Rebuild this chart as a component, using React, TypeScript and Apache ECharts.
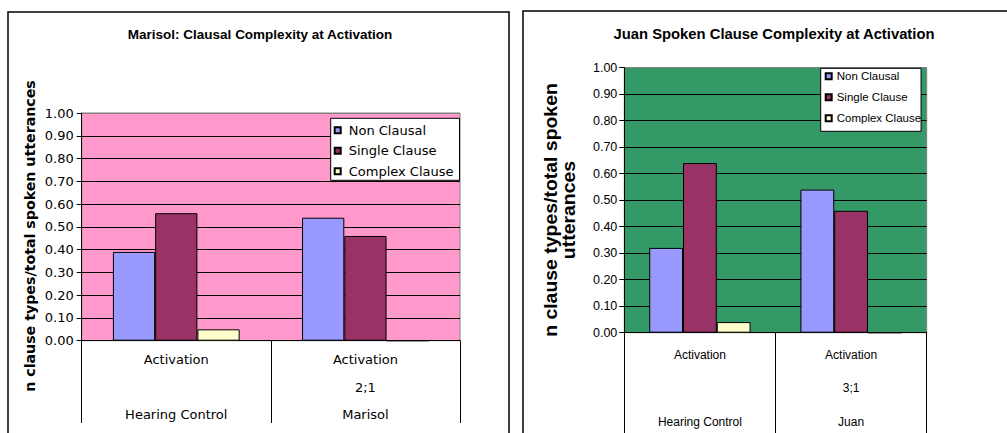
import React, { useEffect, useRef } from "react";
import * as echarts from "echarts";

// Clause-type shares per session, two panels side by side
const seriesNames = ["Non Clausal", "Single Clause", "Complex Clause"];
const seriesColors = ["#9999FF", "#993366", "#FFFFCC"];

const marisolGroups = ["Hearing Control", "Marisol"];
const marisolSessions = ["Activation", "Activation"];
const marisolAges = ["", "2;1"];
const marisolNonClausal = [0.39, 0.54];
const marisolSingleClause = [0.56, 0.46];
const marisolComplexClause = [0.05, 0.0];

const juanGroups = ["Hearing Control", "Juan"];
const juanSessions = ["Activation", "Activation"];
const juanAges = ["", "3;1"];
const juanNonClausal = [0.32, 0.54];
const juanSingleClause = [0.64, 0.46];
const juanComplexClause = [0.04, 0.0];

const leftTitle = "Marisol: Clausal Complexity at Activation";
const rightTitle = "Juan Spoken Clause Complexity at Activation";
const yTitle = "n clause types/total spoken utterances";
const yTitleWrapped = "n clause types/total spoken\nutterances";

const buildCategories = (sessions: string[], ages: string[], groups: string[]) =>
  sessions.map((s, i) => `${s}\n${ages[i] || " "}\n${groups[i]}`);

const gridLineColors = [
  "#000", "#000", "#000", "#000", "#000", "#000", "#000", "#000", "#000", "#000", "#808080",
];

export default function App() {
  const ref = useRef<HTMLDivElement>(null);

  useEffect(() => {
    if (!ref.current) return;
    const chart = echarts.init(ref.current, undefined, { renderer: "svg" });

    const leftFont = "DejaVu Sans";
    const rightFont = "Liberation Sans";

    const yAxisBase = (gridIndex: number, font: string, size: number, margin: number) => ({
      gridIndex,
      type: "value",
      min: 0,
      max: 1,
      interval: 0.1,
      axisLine: { show: true, lineStyle: { color: "#000", width: 1 } },
      axisTick: { show: true, length: 5, lineStyle: { color: "#000" } },
      axisLabel: {
        formatter: (v: number) => v.toFixed(2),
        color: "#000",
        fontFamily: font,
        fontSize: size,
        margin,
      },
      splitLine: { show: true, lineStyle: { color: gridLineColors, width: 1 } },
    });

    const xAxisBase = (
      gridIndex: number,
      data: string[],
      font: string,
      size: number,
      lineHeight: number,
      tickLength: number
    ) => ({
      gridIndex,
      type: "category",
      data,
      axisLine: { show: true, lineStyle: { color: "#000", width: 1 } },
      axisTick: { show: true, length: tickLength, lineStyle: { color: "#000" } },
      axisLabel: {
        interval: 0,
        color: "#000",
        fontFamily: font,
        fontSize: size,
        lineHeight,
        margin: 5.5,
      },
    });

    const barSeries = (name: string, color: string, data: number[], idx: number) => ({
      name,
      type: "bar",
      xAxisIndex: idx,
      yAxisIndex: idx,
      data,
      barGap: "0%",
      barCategoryGap: "33%",
      itemStyle: { color, borderColor: "#000", borderWidth: 1 },
    });

    const leftData = [marisolNonClausal, marisolSingleClause, marisolComplexClause];
    const rightData = [juanNonClausal, juanSingleClause, juanComplexClause];

    chart.setOption({
      animation: false,
      backgroundColor: "#fff",
      grid: [
        {
          left: 81.7,
          top: 113,
          right: 547,
          bottom: 92.3,
          outerBoundsMode: "none",
          show: true,
          backgroundColor: "#FF99CC",
          borderColor: "#808080",
          borderWidth: 1,
        },
        {
          left: 624.3,
          top: 67.7,
          right: 80.3,
          bottom: 100.3,
          outerBoundsMode: "none",
          show: true,
          backgroundColor: "#339966",
          borderColor: "#808080",
          borderWidth: 1,
        },
      ],
      xAxis: [
        xAxisBase(0, buildCategories(marisolSessions, marisolAges, marisolGroups), leftFont, 13, 27.5, 82.3),
        xAxisBase(1, buildCategories(juanSessions, juanAges, juanGroups), rightFont, 12, 33.5, 101),
      ],
      yAxis: [yAxisBase(0, leftFont, 13, 8), yAxisBase(1, rightFont, 12.5, 7)],
      legend: [
        {
          left: 330.7,
          top: 118.3,
          orient: "vertical",
          data: seriesNames,
          icon: "rect",
          itemWidth: 6,
          itemHeight: 6,
          itemGap: 6.5,
          padding: [5, 6, 2, 3],
          backgroundColor: "#fff",
          borderColor: "#000",
          borderWidth: 1,
          selectedMode: false,
          textStyle: { fontFamily: leftFont, fontSize: 13, color: "#000", lineHeight: 14, padding: [0, 0, 0, 3] },
        },
        {
          left: 820.7,
          top: 68.3,
          orient: "vertical",
          data: seriesNames,
          icon: "rect",
          itemWidth: 6,
          itemHeight: 6,
          itemGap: 7,
          padding: [1, 0, 6, 4],
          backgroundColor: "#fff",
          borderColor: "#000",
          borderWidth: 1,
          selectedMode: false,
          textStyle: { fontFamily: rightFont, fontSize: 11.5, color: "#000", lineHeight: 14 },
        },
      ],
      series: [
        ...seriesNames.map((n, i) => barSeries(n, seriesColors[i], leftData[i], 0)),
        ...seriesNames.map((n, i) => barSeries(n, seriesColors[i], rightData[i], 1)),
      ],
      graphic: [
        {
          type: "rect",
          silent: true,
          shape: { x: 8, y: 12, width: 501, height: 460 },
          style: { fill: "none", stroke: "#000", lineWidth: 1.5 },
        },
        {
          type: "rect",
          silent: true,
          shape: { x: 523, y: 11, width: 520, height: 460 },
          style: { fill: "none", stroke: "#000", lineWidth: 1.5 },
        },
        {
          type: "text",
          x: 260,
          y: 34,
          style: {
            text: leftTitle,
            fontFamily: rightFont,
            fontWeight: "bold",
            fontSize: 13.5,
            fill: "#000",
            align: "center",
            verticalAlign: "middle",
          },
        },
        {
          type: "text",
          x: 774,
          y: 34,
          style: {
            text: rightTitle,
            fontFamily: rightFont,
            fontWeight: "bold",
            fontSize: 14.8,
            fill: "#000",
            align: "center",
            verticalAlign: "middle",
          },
        },
        {
          type: "text",
          x: 29.5,
          y: 236,
          rotation: Math.PI / 2,
          style: {
            text: yTitle,
            fontFamily: leftFont,
            fontWeight: "bold",
            fontSize: 14.2,
            fill: "#000",
            align: "center",
            verticalAlign: "middle",
          },
        },
        {
          type: "text",
          x: 560,
          y: 210,
          rotation: Math.PI / 2,
          scaleX: 1.08,
          style: {
            text: yTitleWrapped,
            fontFamily: rightFont,
            fontWeight: "bold",
            fontSize: 18,
            lineHeight: 18,
            fill: "#000",
            align: "center",
            verticalAlign: "middle",
          },
        },
      ],
    });

    return () => chart.dispose();
  }, []);

  return (
    <div
      ref={ref}
      style={{ position: "absolute", left: 0, top: 0, width: 1007, height: 433 }}
    />
  );
}
